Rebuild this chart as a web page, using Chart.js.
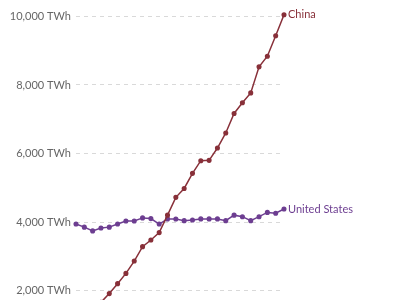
<!DOCTYPE html>
<html>
<head>
<meta charset="utf-8">
<script src="https://cdn.jsdelivr.net/npm/chart.js@4"></script>
<style>
  html, body { margin: 0; padding: 0; background: #fff; overflow: hidden; }
  #wrap { width: 400px; height: 380px; position: relative; }
</style>
</head>
<body>
<div id="wrap"><canvas id="chart"></canvas></div>
<script>
// electricity generation, TWh
const years = [1999, 2000, 2001, 2002, 2003, 2004, 2005, 2006, 2007, 2008, 2009, 2010, 2011,
  2012, 2013, 2014, 2015, 2016, 2017, 2018, 2019, 2020, 2021, 2022, 2023, 2024];
const china = [1240, 1356, 1480, 1654, 1910, 2200, 2500, 2860, 3280, 3475, 3690, 4200, 4720,
  4980, 5420, 5790, 5800, 6160, 6600, 7170, 7480, 7770, 8530, 8840, 9440, 10050];
const usa = [3940, 3850, 3740, 3825, 3850, 3940, 4030, 4030, 4120, 4100, 3940, 4090, 4088,
  4040, 4060, 4090, 4090, 4090, 4040, 4200, 4155, 4040, 4155, 4280, 4255, 4380];
const yTicks = [0, 2000, 4000, 6000, 8000, 10000];

// draw the series name next to the last point
const endLabels = {
  id: "endLabels",
  afterDatasetsDraw(chart) {
    const ctx = chart.ctx;
    ctx.save();
    ctx.font = "11px Lato";
    ctx.textBaseline = "middle";
    chart.data.datasets.forEach(function(ds, i) {
      const pts = chart.getDatasetMeta(i).data;
      const last = pts[pts.length - 1];
      ctx.fillStyle = ds.borderColor;
      ctx.fillText(ds.label, last.x + 4, last.y);
    });
    ctx.restore();
  }
};

new Chart(document.getElementById("chart"), {
  type: "line",
  data: {
    labels: years,
    datasets: [
      {
        label: "China",
        data: china,
        borderColor: "#883039",
        backgroundColor: "#883039",
        borderWidth: 1.5,
        pointRadius: 1.8,
        pointHoverRadius: 1.8,
        clip: false,
      },
      {
        label: "United States",
        data: usa,
        borderColor: "#6d3e91",
        backgroundColor: "#6d3e91",
        borderWidth: 1.5,
        pointRadius: 1.8,
        pointHoverRadius: 1.8,
        clip: false,
      },
    ],
  },
  options: {
    responsive: true,
    maintainAspectRatio: false,
    animation: false,
    layout: { padding: { top: 16.5, right: 116, bottom: 21, left: 0 } },
    plugins: { legend: { display: false }, tooltip: { enabled: false } },
    scales: {
      x: { display: false },
      y: {
        min: 0,
        max: 10000,
        afterBuildTicks: function(scale) {
          scale.ticks = yTicks.map(function(v) { return { value: v }; });
        },
        afterFit: function(scale) { scale.width = 76; },
        grid: { color: "#d9d9d9", drawTicks: false, lineWidth: 1 },
        border: { display: false, dash: [4, 4] },
        ticks: {
          padding: 5,
          color: "#666",
          font: { family: "Lato", size: 11 },
          callback: function(v) { return v.toLocaleString("en-US") + " TWh"; },
        },
      },
    },
  },
  plugins: [endLabels],
});
</script>
</body>
</html>
